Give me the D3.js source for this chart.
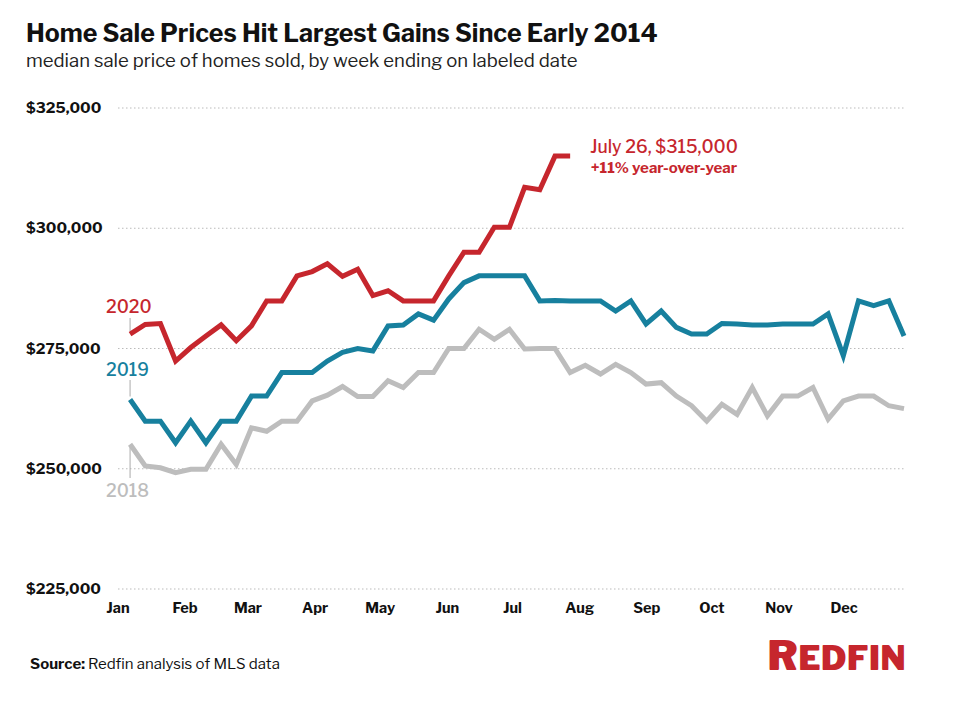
<!DOCTYPE html>
<html lang="en">
<head>
<meta charset="UTF-8">
<title>Home Sale Prices</title>
<style>
  body { margin: 0; background: #fff; }
  text { font-family: "Libre Franklin", Lato, "Open Sans", sans-serif; }
</style>
</head>
<body>
<div id="chart-container"></div>
<script src="https://d3js.org/d3.v7.min.js"></script>
<script>
const years = ["2018", "2019", "2020"];
const yTicks = [225000, 250000, 275000, 300000, 325000];
const monthLabels = ["Jan","Feb","Mar","Apr","May","Jun","Jul","Aug","Sep","Oct","Nov","Dec"];

const price2018 = [255100,250600,250200,249200,249900,249900,255100,250900,258500,257800,259900,259900,
  264100,265300,267100,265000,265000,268300,266900,270000,270000,275000,275000,279000,276900,279000,
  274900,275000,275000,270000,271500,269700,271700,270000,267600,267900,265100,263100,259900,263400,
  261300,266900,261000,265100,265100,266900,260300,264100,265100,265100,263100,262500];
const price2019 = [264400,259900,259900,255400,259900,255400,259900,259900,265100,265100,270000,270000,
  270000,272400,274200,275000,274500,279700,279900,282200,280900,285300,288700,290100,290100,290100,
  290100,284900,285000,284900,284900,284900,282800,284900,280100,282800,279400,278000,278000,280200,
  280100,279900,279900,280100,280100,280100,282200,273500,284900,283900,284900,277600];
const price2020 = [278000,280000,280200,272400,275200,277600,279900,276600,279700,284900,284900,290100,
  291000,292600,290000,291500,286000,287000,284900,284900,284900,290100,295000,295000,300200,300200,
  308500,308000,315000,315000];

const colors = {"2018": "#bdbdbd", "2019": "#17809e", "2020": "#c6262d"};
const series = {"2018": price2018, "2019": price2019, "2020": price2020};

const W = 961, H = 701;
const svg = d3.select("#chart-container").append("svg").attr("width", W).attr("height", H);

const firstWeek = new Date(2020, 0, 5);
const weekDate = i => d3.timeWeek.offset(firstWeek, i);

// Jan 1 sits 4 days before the first week
const x = d3.scaleTime().domain([new Date(2020, 0, 1), weekDate(51)]).range([121.4, 904]);
const y = d3.scaleLinear().domain([225000, 325000]).range([589, 108]);

// title
svg.append("text").attr("x", 26).attr("y", 42).attr("font-size", 25).attr("font-weight", 700)
  .attr("fill", "#111").text("Home Sale Prices Hit Largest Gains Since Early 2014");
svg.append("text").attr("x", 26).attr("y", 67).attr("font-size", 18.5).attr("fill", "#222")
  .text("median sale price of homes sold, by week ending on labeled date");

// grid
const grid = svg.append("g");
grid.selectAll("line").data(yTicks).enter().append("line")
  .attr("x1", 118).attr("x2", 905)
  .attr("y1", d => y(d)).attr("y2", d => y(d))
  .attr("stroke", "#bbb").attr("stroke-dasharray", "1.5,2.5");
grid.selectAll("text").data(yTicks).enter().append("text")
  .attr("x", 26).attr("y", d => y(d) + 5)
  .attr("font-size", 15).attr("font-weight", 700).attr("fill", "#111")
  .text(d => d3.format("$,")(d));

// x axis
const xAxis = svg.append("g").attr("transform", `translate(0, 595)`)
  .call(d3.axisBottom(x).ticks(d3.timeMonth.every(1)).tickFormat(d => monthLabels[d.getMonth()]).tickSize(0));
xAxis.select(".domain").remove();
xAxis.selectAll("text").attr("font-size", 14.5).attr("font-weight", 700).attr("fill", "#111")
  .attr("dy", "1em").attr("dx", "-4");

// year label leaders
const leader = [
  {year: "2020", y1: 318, y2: y(price2020[0]) - 3, ty: 313},
  {year: "2019", y1: 380, y2: y(price2019[0]) - 3, ty: 376},
  {year: "2018", y1: 478, y2: y(price2018[0]) + 3, ty: 497}
];
svg.selectAll(".leader").data(leader).enter().append("line")
  .attr("x1", x(firstWeek)).attr("x2", x(firstWeek))
  .attr("y1", d => d.y1).attr("y2", d => d.y2)
  .attr("stroke", "#aaa").attr("stroke-width", 1);
svg.selectAll(".yearLabel").data(leader).enter().append("text")
  .attr("x", 106).attr("y", d => d.ty).attr("font-size", 17.5).attr("font-weight", 500)
  .attr("fill", d => colors[d.year]).text(d => d.year);

// lines
const line = d3.line().x((d, i) => x(weekDate(i))).y(d => y(d));
years.forEach(yr => {
  svg.append("path").datum(series[yr])
    .attr("fill", "none").attr("stroke", colors[yr]).attr("stroke-width", 5)
    .attr("stroke-linejoin", "miter").attr("d", line);
});

// annotation
svg.append("text").attr("x", 664).attr("y", 153).attr("text-anchor", "middle")
  .attr("font-size", 17.5).attr("font-weight", 500).attr("fill", colors["2020"]).text("July 26, $315,000");
svg.append("text").attr("x", 664).attr("y", 173).attr("text-anchor", "middle")
  .attr("font-size", 15).attr("font-weight", 700).attr("fill", colors["2020"]).text("+11% year-over-year");

// footer
const src = svg.append("text").attr("x", 30).attr("y", 669).attr("font-size", 15).attr("fill", "#111");
src.append("tspan").attr("font-weight", 700).text("Source: ");
src.append("tspan").text("Redfin analysis of MLS data");

const logo = svg.append("text").attr("x", 906).attr("y", 670).attr("text-anchor", "end")
  .attr("font-weight", 900).attr("fill", "#c6262d").attr("letter-spacing", 0.5);
logo.append("tspan").attr("font-size", 41).text("R");
logo.append("tspan").attr("font-size", 33).text("EDFIN");
</script>
</body>
</html>
